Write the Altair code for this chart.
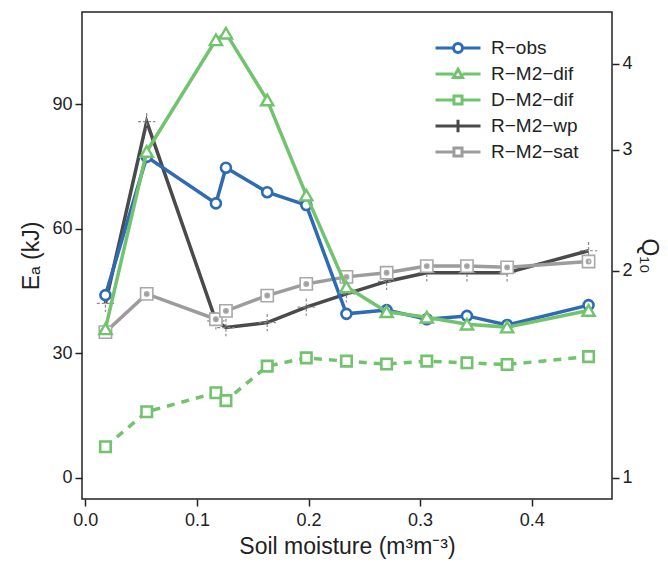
import altair as alt
import pandas as pd
import numpy as np

# ---------------- data ----------------
moisture = [0.018, 0.055, 0.117, 0.126, 0.163, 0.198, 0.234, 0.270, 0.306, 0.342, 0.378, 0.451]
r_obs = [44.0, 77.3, 66.1, 74.7, 68.8, 65.7, 39.5, 40.4, 38.2, 39.0, 36.8, 41.6]
r_m2_dif = [35.9, 78.6, 105.5, 107.1, 91.0, 68.1, 46.0, 40.0, 38.7, 37.0, 36.3, 40.3]
d_m2_dif = [7.5, 15.9, 20.5, 18.6, 26.9, 28.9, 28.1, 27.4, 28.1, 27.7, 27.3, 29.2]
r_m2_wp = [42.0, 85.8, 37.8, 36.2, 37.4, 41.1, 44.3, 47.3, 49.4, 49.4, 49.4, 54.7]
r_m2_sat = [35.1, 44.3, 38.2, 40.2, 43.9, 46.7, 48.4, 49.4, 51.0, 51.0, 50.7, 52.1]

series = ["R−obs", "R−M2−dif", "D−M2−dif", "R−M2−wp", "R−M2−sat"]
colors = ["#2f6bb4", "#72c36d", "#72c36d", "#4a4a4a", "#9c9c9c"]
values = [r_obs, r_m2_dif, d_m2_dif, r_m2_wp, r_m2_sat]

x_ticks = [0.0, 0.1, 0.2, 0.3, 0.4]
y_ticks = [0, 30, 60, 90]
q10_ticks = [1, 2, 3, 4]

rows = []
for s, vals in zip(series, values):
    for xv, v in zip(moisture, vals):
        rows.append({"series": s, "x": xv, "Ea": v})
df = pd.DataFrame(rows)

X_DOM = [-0.003, 0.472]
Y_DOM = [-5.1, 112.2]
K = 0.0139  # ln(Q10) per kJ
Q_DOM = [float(np.exp(K * Y_DOM[0])), float(np.exp(K * Y_DOM[1]))]

FONT = "Liberation Sans"
TXT = "#222222"

x_enc = alt.X(
    "x:Q",
    scale=alt.Scale(domain=X_DOM, nice=False, zero=False),
    axis=alt.Axis(values=x_ticks, format=".1f", title="Soil moisture (m³m⁻³)",
                  grid=False, domain=False, tickSize=7, tickWidth=1.5,
                  labelPadding=5, titlePadding=6),
)
y_enc = alt.Y(
    "Ea:Q",
    scale=alt.Scale(domain=Y_DOM, nice=False, zero=False),
    axis=alt.Axis(values=y_ticks, title="Eₐ (kJ)", grid=False, domain=False,
                  tickSize=7, tickWidth=1.5, labelPadding=3, titlePadding=8),
)

# marker styles per series
sat_path = "M-1,-1H1V1H-1Z M-0.35,0A0.35,0.35 0 1,0 0.35,0A0.35,0.35 0 1,0 -0.35,0Z"
cross_path = "M-1,0H1 M0,-1V1"
marker = {
    "R−obs": dict(shape="circle", size=100, strokeWidth=2.6),
    "R−M2−dif": dict(shape="triangle-up", size=150, strokeWidth=2.4),
    "D−M2−dif": dict(shape="square", size=110, strokeWidth=2.6),
    "R−M2−sat": dict(shape=sat_path, size=150, strokeWidth=1.6),
}

base = alt.Chart(df)
layers = []
draw_order = ["R−M2−wp", "R−M2−sat", "R−obs", "R−M2−dif", "D−M2−dif"]
for s in draw_order:
    c = colors[series.index(s)]
    sub = base.transform_filter(alt.datum.series == s)
    if s == "D−M2−dif":
        ln = sub.mark_line(color=c, strokeWidth=3.5, strokeDash=[8, 7])
    else:
        ln = sub.mark_line(color=c, strokeWidth=3.5)
    layers.append(ln.encode(x=x_enc, y=y_enc))
    if s == "R−M2−wp":
        pt = sub.mark_point(shape=cross_path, size=300, stroke="#8a8a8a",
                            strokeWidth=1.2, strokeDash=[3, 2], opacity=1, filled=False)
    else:
        m = marker[s]
        stroke_c = "#a8a8a8" if s == "R−M2−sat" else c
        pt = sub.mark_point(shape=m["shape"], size=m["size"], filled=True,
                            fill="white", stroke=stroke_c, strokeWidth=m["strokeWidth"],
                            opacity=1)
    layers.append(pt.encode(x=x_enc, y=y_enc))

inner = alt.layer(*layers)

# legend built from scales (line + marker symbols)
leg_shapes = [
    "M-1,0H-0.2 M0.2,0H1 M-0.2,0A0.2,0.2 0 1,1 0.2,0A0.2,0.2 0 1,1 -0.2,0Z",
    "M-1,0H-0.2 M0.2,0H1 M0,-0.21L0.2,0.15L-0.2,0.15Z",
    "M-1,0H-0.18 M0.18,0H1 M-0.18,-0.18H0.18V0.18H-0.18Z",
    "M-1,0H1 M0,-0.28V0.28",
    "M-1,0H-0.18 M0.18,0H1 M-0.18,-0.18H0.18V0.18H-0.18Z",
]
leg = alt.Legend(title=None, orient="none", legendX=352, legendY=25,
                 symbolSize=2025, symbolStrokeWidth=3, labelFont=FONT,
                 labelFontSize=19, labelColor=TXT, labelOffset=9,
                 clipHeight=22, rowPadding=4, padding=0)
legend_layer = alt.Chart(df).transform_filter("datum.Ea < -1000").mark_point(
    filled=False, opacity=1, strokeWidth=3
).encode(
    x=x_enc,
    y=alt.Y("Ea:Q", scale=alt.Scale(domain=Y_DOM, nice=False, zero=False), axis=None),
    color=alt.Color("series:N", scale=alt.Scale(domain=series, range=colors), legend=leg),
    shape=alt.Shape("series:N", scale=alt.Scale(domain=series, range=leg_shapes), legend=leg),
)

# right Q10 axis (log scale, ln Q10 proportional to Ea)
q_df = pd.DataFrame({"q": q10_ticks})
right_layer = alt.Chart(q_df).mark_point(opacity=0).encode(
    x=alt.value(0),
    y=alt.Y("q:Q", scale=alt.Scale(type="log", domain=Q_DOM, nice=False),
            axis=alt.Axis(orient="right", values=q10_ticks, format="d", title="Q₁₀",
                          grid=False, domain=False, tickSize=7, tickWidth=1.5,
                          labelPadding=3, titlePadding=4)),
)

chart = alt.layer(inner, legend_layer, right_layer).resolve_scale(
    y="independent"
).properties(
    width=530, height=487,
    padding={"left": 82, "top": 12, "right": 56, "bottom": 65},
    autosize=alt.AutoSizeParams(type="none"),
).configure_view(
    stroke="#222222", strokeWidth=1.5
).configure_axis(
    labelFont=FONT, titleFont=FONT, labelFontSize=18, titleFontSize=23,
    labelColor=TXT, titleColor=TXT, tickColor=TXT, titleFontWeight="normal",
)

chart.save("out.html", embed_options={"renderer": "svg", "actions": False})
